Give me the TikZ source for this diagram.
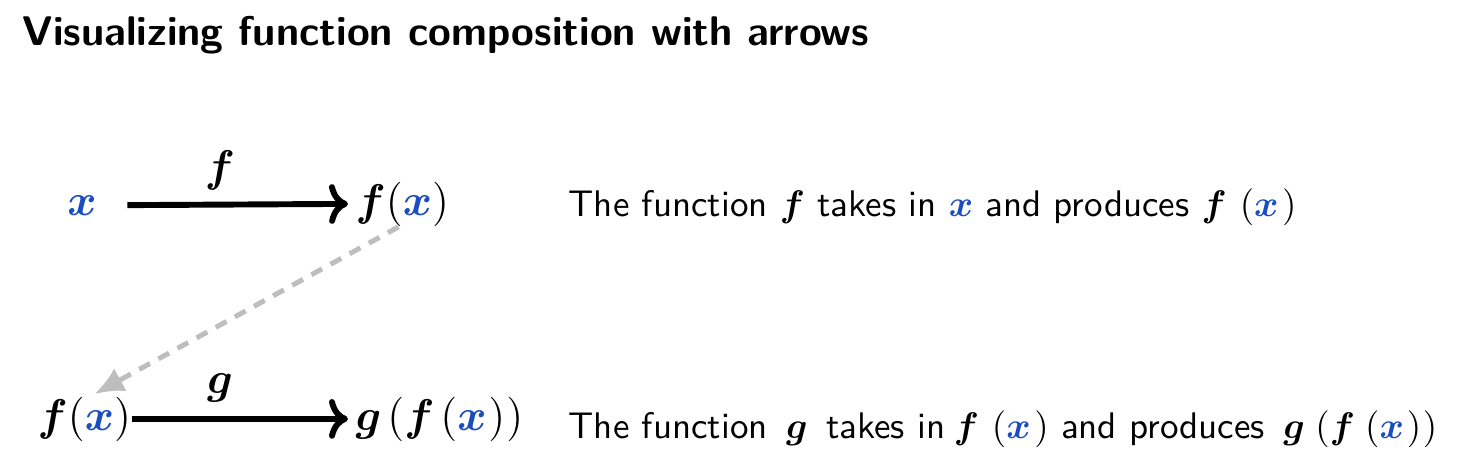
\documentclass[tikz,border=0pt]{standalone}
\usepackage{amsmath}
\usepackage{amsbsy}
\usetikzlibrary{arrows.meta}
\definecolor{varblue}{RGB}{26,78,192}
\definecolor{dashgray}{RGB}{190,190,190}
\newcommand{\bx}{\textcolor{varblue}{\boldsymbol{x}}}
\newcommand{\bff}{\boldsymbol{f}}
\newcommand{\bfg}{\boldsymbol{g}}
\newcommand{\dfx}{\bff\kern3.5pt(\bx\kern1pt)}
\newcommand{\dgfx}{\bfg\kern2.8pt(\bff\kern2.8pt(\bx\kern0.8pt)\kern0.4pt)}
\newcommand{\lgfx}{\bfg\kern1.6pt(\bff\kern1.6pt(\bx\kern0.5pt)\kern0.3pt)}
\tikzset{
  px/.style={x=0.2703pt,y=-0.2703pt},
  bigmath/.style={inner sep=0pt,anchor=base,font=\large},
  desc/.style={inner sep=0pt,anchor=base west,font=\sffamily},
  maparrow/.style={line width=1.6pt,->},
  linkarrow/.style={line width=1.35pt,dashgray,dash pattern=on 3.3pt off 2.6pt,-{Latex[length=8pt,width=7pt]}}
}
\begin{document}
\begin{tikzpicture}[px]
\useasboundingbox (0,0) rectangle (1474,475);
\node[inner sep=0pt,anchor=base west,font=\fontsize{11.2}{13}\selectfont\sffamily\bfseries] (title) at (22,46) {Visualizing function composition with arrows};
% top row
\node[bigmath] (xa) at (82,215) {$\bx$};
\node[bigmath,anchor=base west] (fxa) at (355,215) {$\bff(\bx)$};
\draw[maparrow] ([xshift=8.1pt]xa.east) -- ([xshift=-1.9pt]fxa.west);
\node[bigmath] (flab) at (220,182) {$\bff$};
% bottom row
\node[bigmath,anchor=base west] (fxb) at (37,430) {$\bff(\bx)$};
\node[bigmath,anchor=base west] (gfx) at (355,430) {$\lgfx$};
\draw[maparrow] (fxb.east) -- ([xshift=-1.9pt]gfx.west);
\node[bigmath] (glab) at (220,394) {$\bfg$};
% dashed link
\draw[linkarrow] ([xshift=-1pt]fxa.south) -- ([xshift=2.7pt,yshift=0.5pt]fxb.north);
% descriptions
\node[desc] (d1) at (568,217) {The function $\bff$ takes in $\bx$ and produces $\dfx$};
\node[desc] (d2) at (568,438) {The function \,$\bfg$\, takes in\kern-1pt\ $\dfx$ and produces \,$\dgfx$};
\end{tikzpicture}
\end{document}
